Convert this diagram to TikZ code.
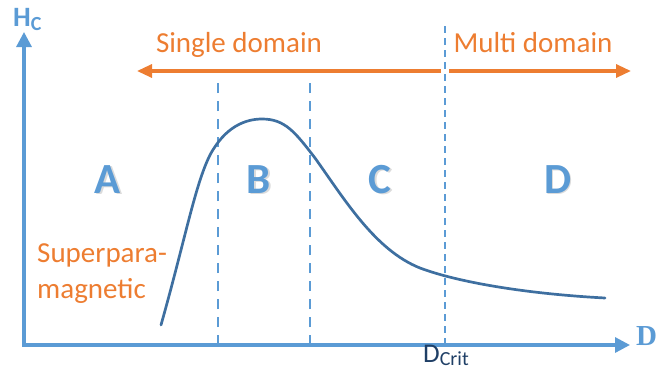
\documentclass[tikz,border=0pt]{standalone}
\usepackage{fontspec}
\setmainfont{Carlito}
\newfontfamily\serifbold{Liberation Serif}
\usetikzlibrary{arrows.meta}
\definecolor{axisblue}{HTML}{5B9BD5}
\definecolor{curveblue}{HTML}{3E6FA0}
\definecolor{domorange}{HTML}{ED7D31}
\definecolor{darkblue}{HTML}{1F3F66}
\tikzset{
  axisline/.style={draw=axisblue, line width=3.2pt, -{Triangle[length=15pt,width=15pt]}},
  domarrow/.style={draw=domorange, line width=3.2pt, -{Triangle[length=15pt,width=13pt]}},
  divider/.style={draw=axisblue, line width=2.8pt, dash pattern=on 10pt off 8pt},
  critdivider/.style={draw=axisblue, line width=2.6pt, dash pattern=on 7pt off 5pt},
  hccurve/.style={draw=curveblue, line width=2.7pt, line cap=round},
  domtext/.style={text=domorange, font=\fontsize{29}{35}\selectfont, inner sep=0pt, anchor=base},
  region/.style={text=axisblue, font=\fontsize{43}{43}\selectfont\bfseries, inner sep=0pt, anchor=base},
  regionshadow/.style={text=black!35, opacity=0.4, font=\fontsize{43}{43}\selectfont\bfseries, inner sep=0pt, anchor=base},
}
\begin{document}
\begin{tikzpicture}[x=1pt,y=-1pt]
\useasboundingbox (0,0) rectangle (659,370);
% axes
\coordinate (origin) at (24,345);
\coordinate (ytip) at (24,32);
\coordinate (xtip) at (630,345);
\draw[axisline] ([yshift=1.6pt]origin) -- (ytip);
\draw[axisline] ([xshift=-1.6pt]origin) -- (xtip);
\node[text=axisblue, inner sep=0pt, anchor=base west] (hc) at (13,26)
  {\fontsize{28}{28}\selectfont\bfseries H\raisebox{-4pt}{\fontsize{20}{20}\selectfont C}};
\node[text=axisblue, inner sep=0pt, anchor=base west] (dlab) at (636,345)
  {\fontsize{29}{29}\selectfont\serifbold\bfseries D};
% dividers
\coordinate (d1top) at (218,79);
\coordinate (d1bot) at (218,345);
\coordinate (d2top) at (310,79);
\coordinate (d2bot) at (310,345);
\coordinate (d3top) at (445,26);
\coordinate (d3bot) at (445,345);
\draw[divider] (d1bot) -- (d1top);
\draw[divider] (d2bot) -- (d2top);
\draw[critdivider] (d3top) -- (d3bot);
\node[text=darkblue, inner sep=0pt, anchor=base west] (dcrit) at (423,362)
  {\fontsize{27}{27}\selectfont D\raisebox{-3pt}{\fontsize{20}{20}\selectfont Crit}};
% domain arrows
\coordinate (sdstart) at (441,71);
\coordinate (sdend) at (137,71);
\coordinate (mdstart) at (449,71);
\coordinate (mdend) at (631,71);
\draw[domarrow] (sdstart) -- (sdend);
\draw[domarrow] (mdstart) -- (mdend);
\node[domtext] (single) at (239,52) {Single domain};
\node[domtext] (multi) at (533,52) {Multi domain};
% region letters
\foreach \n/\l/\x in {A/A/108,B/B/259,C/C/380,D/D/558}{
  \node[regionshadow] at (\x+1.5,194.5) {\l};
  \node[region] (reg\n) at (\x,193) {\l};
}
% superparamagnetic
\node[domtext, anchor=base west] (sp1) at (37,262) {Superpara-};
\node[domtext, anchor=base west] (sp2) at (37,298) {magnetic};
% curve
\draw[hccurve] (161,325) .. controls (185,240) and (195,185) .. (210,155)
  .. controls (225,127) and (245,119) .. (262,119)
  .. controls (285,119) and (295,132) .. (315,158)
  .. controls (345,200) and (375,250) .. (420,268)
  .. controls (460,283) and (530,294) .. (605,298);
\end{tikzpicture}
\end{document}
